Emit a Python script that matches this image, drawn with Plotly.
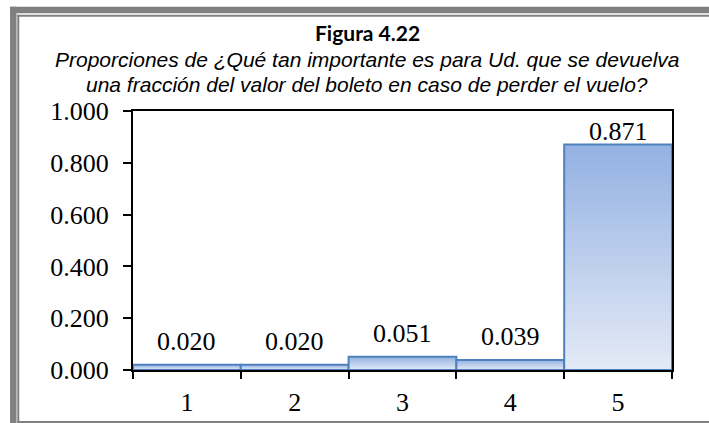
import plotly.graph_objects as go

categories = ["1", "2", "3", "4", "5"]
proportions = [0.020, 0.020, 0.051, 0.039, 0.871]
y_ticks = [0.0, 0.2, 0.4, 0.6, 0.8, 1.0]
title_main = "Figura 4.22"
title_line1 = "Proporciones de ¿Qué tan importante es para Ud. que se devuelva"
title_line2 = "una fracción del valor del boleto en caso de perder el vuelo?"

# ---- styling / layout constants ----
W, H = 709, 423
L, R, T, B = 133, 37, 111, 53
PW, PH = W - L - R, H - T - B
label_shift = [7, 7, 7, 7, -4]
edge = "#4F81BD"
grad = [[0, "#E4EAF6"], [1, "#93B1E2"]]
serif = "Liberation Serif"
frame_color = "#808080"


def px2x(px):
    return (px - L) / PW


def py2y(py):
    return (H - B - py) / PH


fig = go.Figure()
pos = list(range(1, len(categories) + 1))
for p, v in zip(pos, proportions):
    fig.add_trace(go.Scatter(
        x=[p - 0.5, p + 0.5, p + 0.5, p - 0.5, p - 0.5],
        y=[0, 0, v, v, 0],
        mode="lines", fill="toself",
        line=dict(color=edge, width=2),
        fillgradient=dict(type="vertical", colorscale=grad),
        hoverinfo="skip", showlegend=False,
    ))

annotations = []
for p, v, s in zip(pos, proportions, label_shift):
    annotations.append(dict(
        x=p, y=v, xref="x", yref="y", text=f"{v:.3f}", showarrow=False,
        yanchor="bottom", yshift=s, font=dict(family=serif, size=26, color="black"),
    ))

annotations += [
    dict(x=px2x(367), y=py2y(33), xref="paper", yref="paper", text=f"<b>{title_main}</b>",
         showarrow=False, xanchor="center", yanchor="middle",
         font=dict(family="Lato", size=21, color="black")),
    dict(x=px2x(367), y=py2y(60), xref="paper", yref="paper", text=f"<i>{title_line1}</i>",
         showarrow=False, xanchor="center", yanchor="middle",
         font=dict(family="Liberation Sans", size=21, color="black")),
    dict(x=px2x(367), y=py2y(84.5), xref="paper", yref="paper", text=f"<i>{title_line2}</i>",
         showarrow=False, xanchor="center", yanchor="middle",
         font=dict(family="Liberation Sans", size=21, color="black")),
]


def hline(py, px0, px1, w):
    return dict(type="line", xref="paper", yref="paper", x0=px2x(px0), x1=px2x(px1),
                y0=py2y(py), y1=py2y(py), line=dict(color=frame_color, width=w), layer="above")


def vline(px, py0, py1, w):
    return dict(type="line", xref="paper", yref="paper", x0=px2x(px), x1=px2x(px),
                y0=py2y(py0), y1=py2y(py1), line=dict(color=frame_color, width=w), layer="above")


shapes = [
    hline(10, 10, 720, 6.5),
    vline(13.3, 6.7, 440, 6.5),
    hline(15.7, 17.3, 720, 2),
    vline(18.3, 14.7, 423, 2),
    hline(422, 17.3, 720, 2),
]

fig.update_layout(
    width=W, height=H,
    margin=dict(l=L, r=R, t=T, b=B, pad=0, autoexpand=False),
    paper_bgcolor="white", plot_bgcolor="white",
    showlegend=False,
    annotations=annotations,
    shapes=shapes,
    xaxis=dict(
        range=[0.5, len(categories) + 0.5],
        tickmode="array", tickvals=pos, ticktext=categories,
        ticks="", showgrid=False, zeroline=False, automargin=False,
        showline=True, linecolor="black", linewidth=2, mirror=True,
        tickfont=dict(family=serif, size=26, color="black"),
        ticklabelstandoff=8,
        minor=dict(tickmode="array", tickvals=[p - 0.5 for p in pos] + [pos[-1] + 0.5],
                   ticks="outside", ticklen=7, tickwidth=2, tickcolor="black", showgrid=False),
    ),
    yaxis=dict(
        range=[0, 1], tickmode="array", tickvals=y_ticks,
        tickformat=".3f", ticks="outside", ticklen=8, tickwidth=2, tickcolor="black",
        showgrid=False, zeroline=False, automargin=False,
        showline=True, linecolor="black", linewidth=2, mirror=True,
        tickfont=dict(family=serif, size=26, color="black"),
        ticklabelstandoff=9,
    ),
)

fig.write_html("out.html", config={"displayModeBar": False},
               post_script="document.body.style.margin='0px';document.body.style.overflow='hidden';")
